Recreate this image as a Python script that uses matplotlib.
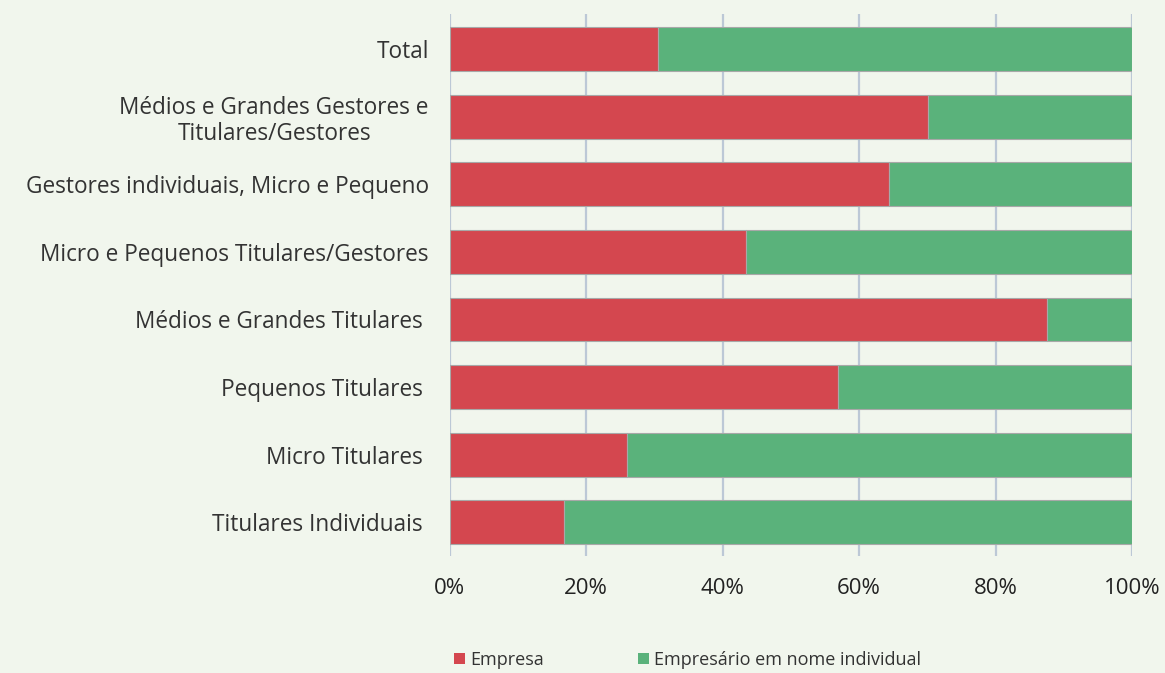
import matplotlib
matplotlib.use("Agg")
import matplotlib.pyplot as plt
from matplotlib.patches import Patch

categories = ["Total", "Médios e Grandes Gestores e\nTitulares/Gestores",
              "Gestores individuais, Micro e Pequeno",
              "Micro e Pequenos Titulares/Gestores",
              "Médios e Grandes Titulares ", "Pequenos Titulares ",
              "Micro Titulares ", "Titulares Individuais "]
empresa = [30.6, 70.1, 64.4, 43.4, 87.5, 56.9, 26.0, 16.7]
eni = [100 - v for v in empresa]
series_names = ["Empresa", "Empresário em nome individual"]
xticks = [0, 20, 40, 60, 80, 100]
xticklabels = ["0%", "20%", "40%", "60%", "80%", "100%"]

bg = "#f1f6ed"
red = "#d4474f"
green = "#5ab27b"
plt.rcParams['font.family'] = ['Open Sans', 'DejaVu Sans']

fig = plt.figure(figsize=(11.65, 6.73), dpi=100, facecolor=bg)
ax = fig.add_axes([0.386, 0.174, 0.5857, 0.805], facecolor=bg)
n = len(categories)
ypos = [n - 1 - i for i in range(n)]
ax.barh(ypos, empresa, height=0.65, color=red, edgecolor="#a8a8a8", linewidth=0.8, zorder=3)
ax.barh(ypos, eni, left=empresa, height=0.65, color=green, edgecolor="#a8a8a8", linewidth=0.8, zorder=3)
ax.set_xlim(0, 100)
ax.set_ylim(-0.5, n - 0.48)
ax.set_yticks(ypos)
ax.set_yticklabels(categories, fontsize=16.3, color="#333333", linespacing=1.1)
ax.set_xticks(xticks)
ax.set_xticklabels(xticklabels, fontsize=16, color="#222222")
for lab in ax.get_yticklabels():
    lab.set_multialignment("center")
ax.tick_params(axis="y", length=0, pad=15)
ax.tick_params(axis="x", length=0, pad=16)
for s in ax.spines.values():
    s.set_visible(False)
ax.grid(axis="x", color="#bcc8d6", linewidth=1.6, zorder=0)
ax.set_axisbelow(True)

handles = [Patch(facecolor=red), Patch(facecolor=green)]
fig.legend(handles, series_names, loc="lower left", bbox_to_anchor=(0.376, -0.018),
           ncol=2, frameon=False, fontsize=13, handlelength=0.6, handleheight=0.6,
           handletextpad=0.3, columnspacing=5.2, labelcolor="#333333")
fig.savefig("out.png", dpi=100, facecolor=bg)
